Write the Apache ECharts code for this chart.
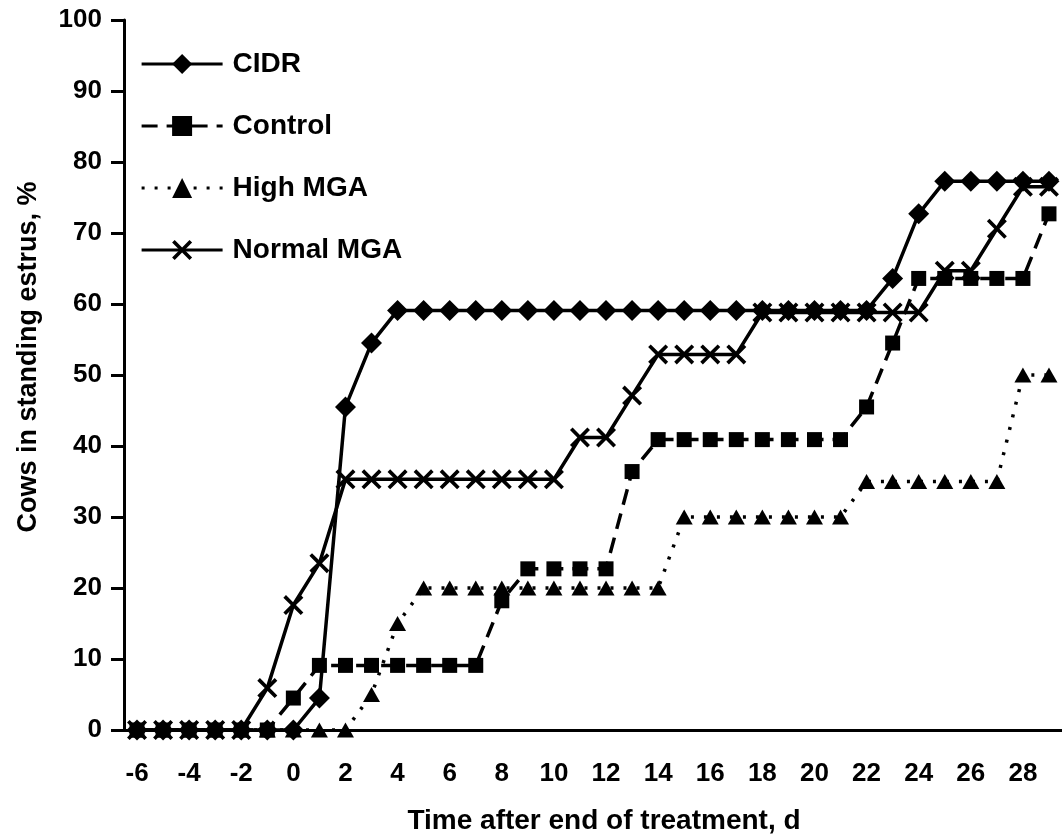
<!DOCTYPE html>
<html>
<head>
<meta charset="utf-8">
<script src="https://cdn.jsdelivr.net/npm/echarts@6/dist/echarts.min.js"></script>
<style>
  html, body { margin: 0; padding: 0; background: #fff; }
  #chart { width: 1062px; height: 840px; }
</style>
</head>
<body>
<div id="chart"></div>
<script>
// days after end of treatment
const days = ['-6', '-5', '-4', '-3', '-2', '-1', '0', '1', '2', '3', '4', '5', '6', '7', '8', '9', '10', '11',
  '12', '13', '14', '15', '16', '17', '18', '19', '20', '21', '22', '23', '24', '25', '26', '27', '28', '29'];

// % cows in standing estrus per group
const cidr = [0, 0, 0, 0, 0, 0, 0, 4.5, 45.5, 54.5, 59.1, 59.1, 59.1, 59.1, 59.1, 59.1, 59.1, 59.1,
  59.1, 59.1, 59.1, 59.1, 59.1, 59.1, 59.1, 59.1, 59.1, 59.1, 59.1, 63.6, 72.7, 77.3, 77.3, 77.3, 77.3, 77.3];
const control = [0, 0, 0, 0, 0, 0, 4.5, 9.1, 9.1, 9.1, 9.1, 9.1, 9.1, 9.1, 18.2, 22.7, 22.7, 22.7,
  22.7, 36.4, 40.9, 40.9, 40.9, 40.9, 40.9, 40.9, 40.9, 40.9, 45.5, 54.5, 63.6, 63.6, 63.6, 63.6, 63.6, 72.7];
const highMGA = [0, 0, 0, 0, 0, 0, 0, 0, 0, 5, 15, 20, 20, 20, 20, 20, 20, 20,
  20, 20, 20, 30, 30, 30, 30, 30, 30, 30, 35, 35, 35, 35, 35, 35, 50, 50];
const normalMGA = [0, 0, 0, 0, 0, 5.9, 17.6, 23.5, 35.3, 35.3, 35.3, 35.3, 35.3, 35.3, 35.3, 35.3, 35.3, 41.2,
  41.2, 47.1, 52.9, 52.9, 52.9, 52.9, 58.8, 58.8, 58.8, 58.8, 58.8, 58.8, 58.8, 64.7, 64.7, 70.6, 76.5, 76.5];

const yTicks = { min: 0, max: 100, step: 10 };

const black = '#000';
const font = '"Liberation Sans", Arial, sans-serif';
// "x" marker drawn as a filled outline
const crossPath = 'path://M0,1.3L1.3,0L5,3.7L8.7,0L10,1.3L6.3,5L10,8.7L8.7,10L5,6.3L1.3,10L0,8.7L3.7,5Z';

var chart = echarts.init(document.getElementById('chart'));

function makeSeries(name, data, symbol, size, lineType) {
  return {
    name: name,
    type: 'line',
    data: data,
    symbol: symbol,
    symbolSize: size,
    showAllSymbol: true,
    lineStyle: { color: black, width: 3.5, type: lineType },
    itemStyle: { color: black, borderWidth: 0 }
  };
}

var option = {
  animation: false,
  backgroundColor: '#fff',
  textStyle: { fontFamily: font },
  legend: {
    orient: 'vertical',
    left: 140,
    top: 50,
    padding: 0,
    itemWidth: 81,
    itemHeight: 25,
    itemGap: 34,
    lineStyle: { width: 3.2 },
    textStyle: { color: black, fontSize: 28, fontWeight: 'bold', fontFamily: font, padding: [0, 0, 0, 5] },
    data: ['CIDR', 'Control', 'High MGA', 'Normal MGA']
  },
  grid: { left: 124, top: 20, width: 939, height: 711 },
  xAxis: {
    type: 'category',
    data: days,
    boundaryGap: true,
    name: 'Time after end of treatment, d',
    nameLocation: 'middle',
    nameGap: 77,
    nameTextStyle: { color: black, fontSize: 28, fontWeight: 'bold', fontFamily: font, padding: [0, 0, 0, 22] },
    axisLine: { lineStyle: { color: black, width: 3 } },
    axisTick: { interval: 0, length: 12, lineStyle: { color: black, width: 3 } },
    axisLabel: { interval: 1, margin: 31, color: black, fontSize: 26, fontWeight: 'bold', fontFamily: font },
    splitLine: { show: false }
  },
  yAxis: {
    type: 'value',
    min: yTicks.min,
    max: yTicks.max,
    interval: yTicks.step,
    name: 'Cows in standing estrus, %',
    nameLocation: 'middle',
    nameGap: 82,
    nameTextStyle: { color: black, fontSize: 27, fontWeight: 'bold', fontFamily: font, padding: [0, 0, 0, 36] },
    axisLine: { show: true, lineStyle: { color: black, width: 3 } },
    axisTick: { show: true, length: 13, lineStyle: { color: black, width: 3 } },
    axisLabel: { margin: 22, color: black, fontSize: 26, fontWeight: 'bold', fontFamily: font },
    splitLine: { show: false }
  },
  series: [
    makeSeries('CIDR', cidr, 'diamond', 21, 'solid'),
    makeSeries('Control', control, 'rect', 15, [16, 9]),
    makeSeries('High MGA', highMGA, 'triangle', [17, 15], [3, 10]),
    makeSeries('Normal MGA', normalMGA, crossPath, 20, 'solid')
  ]
};

option && chart.setOption(option);
</script>
</body>
</html>
